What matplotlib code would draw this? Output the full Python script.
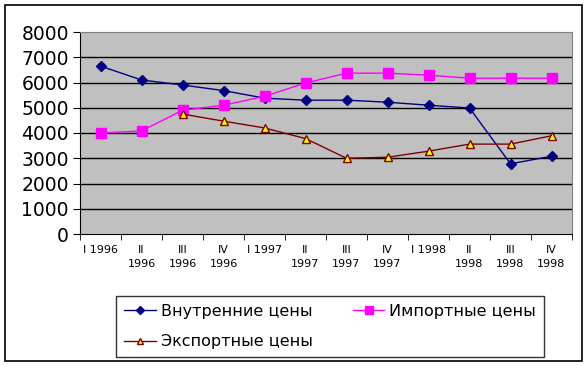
import matplotlib
matplotlib.use('Agg')
import matplotlib.pyplot as plt
from matplotlib.patches import Rectangle
import numpy as np

quarters = ['I 1996', 'II\n1996', 'III\n1996', 'IV\n1996',
            'I 1997', 'II\n1997', 'III\n1997', 'IV\n1997',
            'I 1998', 'II\n1998', 'III\n1998', 'IV\n1998']
domestic = [6650, 6100, 5900, 5680, 5380, 5300, 5300, 5220, 5100, 4990, 2780, 3080]
imports = [4000, 4080, 4900, 5100, 5450, 5980, 6370, 6370, 6290, 6170, 6170, 6170]
exports = [np.nan, np.nan, 4750, 4470, 4200, 3780, 3000, 3040, 3280, 3560, 3560, 3890]

fig = plt.figure(figsize=(5.88, 3.67), dpi=100)
ax = fig.add_axes([80/588, 1 - 234/367, 492/588, 202/367])

x = np.arange(len(quarters))
ax.set_facecolor('#C0C0C0')
for v in range(1000, 8000, 1000):
    ax.axhline(v, color='black', lw=1, zorder=1)

l1, = ax.plot(x, domestic, color='#000080', lw=1, marker='D', ms=5,
              mfc='#000080', mec='#000080', label='Внутренние цены', zorder=3)
l2, = ax.plot(x, imports, color='#FF00FF', lw=1, marker='s', ms=7,
              mfc='#FF00FF', mec='#FF00FF', label='Импортные цены', zorder=3)
l3, = ax.plot(x, exports, color='#800000', lw=1, marker='^', ms=6,
              mfc='#FFFF00', mec='#800000', label='Экспортные цены', zorder=3)

ax.set_xlim(-0.5, 11.5)
ax.set_ylim(0, 8000)
ax.set_yticks(range(0, 8001, 1000))
ax.tick_params(axis='y', labelsize=13.5, length=5, direction='out', pad=3)

ax.set_xticks(x)
ax.set_xticklabels(quarters, fontsize=8, linespacing=1.5, va='top')
ax.tick_params(axis='x', which='major', length=0, pad=8)
ax.set_xticks(np.arange(-0.5, 12, 1), minor=True)
ax.tick_params(axis='x', which='minor', length=4, direction='out')

for s in ['top', 'right']:
    ax.spines[s].set_color('#808080')
for s in ['left', 'bottom']:
    ax.spines[s].set_color('black')

# order so that the 2-column legend reads row by row
handles = [l1, l3, l2]
leg = fig.legend(handles, [h.get_label() for h in handles],
                 loc='upper left', bbox_to_anchor=(116/588, 1 - 296/367, 424/588, 0.0),
                 ncol=2, fontsize=11.5, frameon=True, fancybox=False,
                 edgecolor='black', borderaxespad=0, handlelength=2,
                 handletextpad=0.3, columnspacing=2.5, labelspacing=0.95,
                 borderpad=0.5, markerscale=0.8)
leg.get_frame().set_linewidth(1)

fig.patches.append(Rectangle((5/588, 1 - 361/367), 577/588, 356/367,
                             transform=fig.transFigure, fill=False,
                             edgecolor='black', lw=1.2))

fig.savefig('out.png', dpi=100)
